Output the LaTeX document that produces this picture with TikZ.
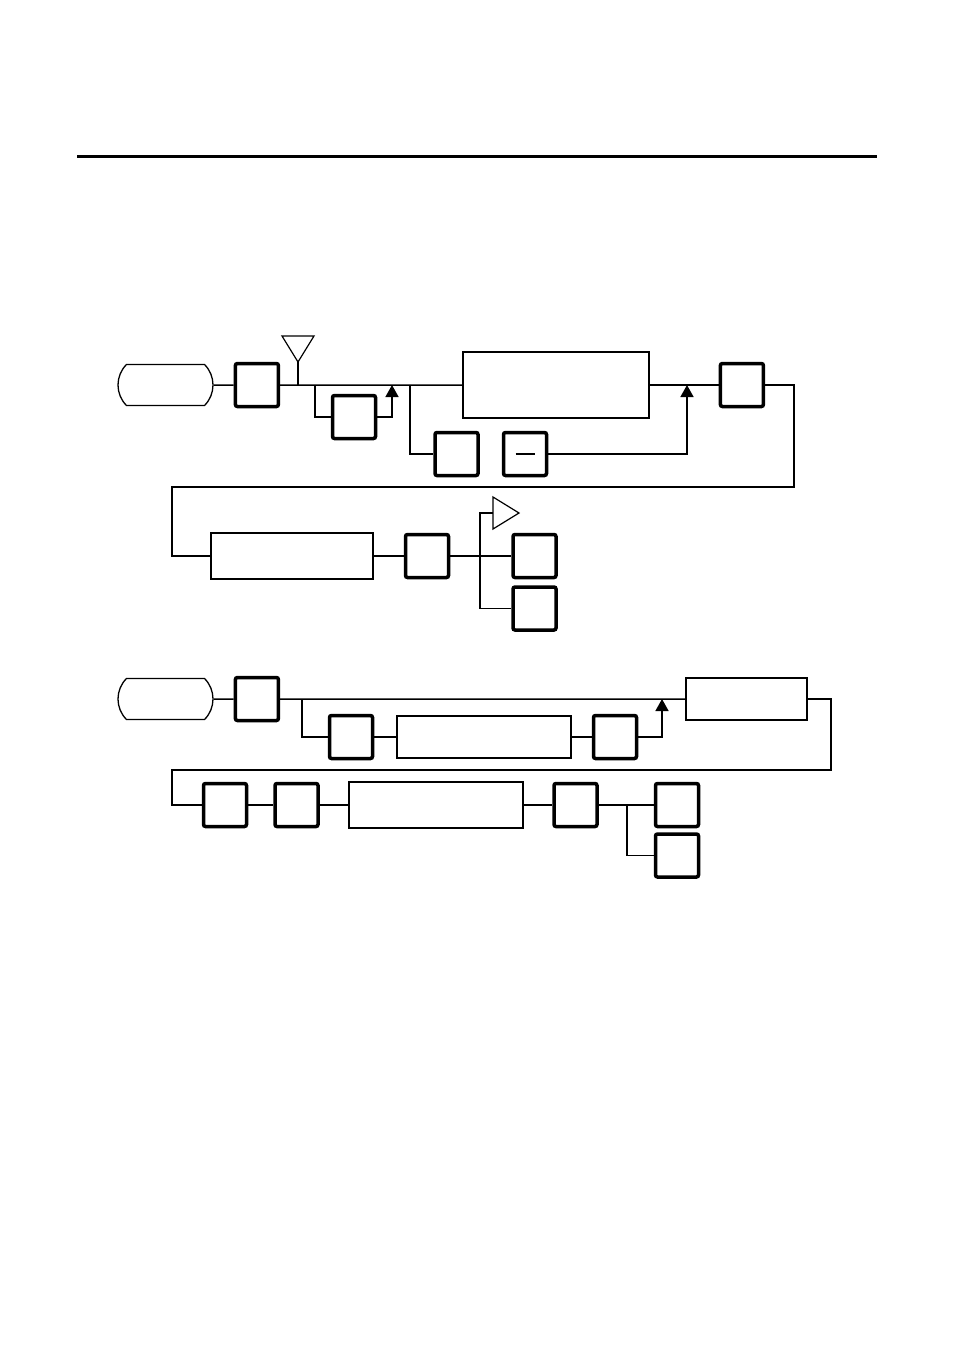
\documentclass[tikz,border=0pt]{standalone}
\usepackage{tikz}
\usetikzlibrary{positioning,calc,arrows.meta,shapes.misc}
\tikzstyle{line} = [draw,line width=1.5pt]
\tikzstyle{boldbox} = [draw,line width=3.5pt,rounded corners=2pt,minimum width=43pt,minimum height=43pt,inner sep=0pt]
\tikzstyle{thinbox} = [draw,line width=2pt,inner sep=0pt]
\tikzstyle{terminal} = [draw,line width=1.3pt,rounded rectangle,rounded rectangle arc length=90,minimum width=95pt,minimum height=41pt,inner sep=0pt]
\tikzstyle{flag} = [draw,line width=1.2pt,line join=miter]
\tikzstyle{joinarrow} = [line,-{Triangle[width=13pt,length=12pt]}]

\begin{document}
\begin{tikzpicture}[x=1pt,y=-1pt]
\useasboundingbox (0,0) rectangle (954,1351);
\draw[line width=3pt] (77,157) -- (877,157);

% first diagram, upper row
\node[terminal] (start1) at (165.5,385) {};
\node[boldbox] (k1) [right=20pt of start1] {};
\node[thinbox,minimum width=185.5pt,minimum height=66.5pt] (field1) [right=182pt of k1] {};
\node[boldbox] (k5) [right=69pt of field1] {};
\node[boldbox] (k2) at (354,417) {};
\node[boldbox] (k3) at (456.5,454) {};
\node[boldbox] (k4) [right=22pt of k3] {\rule{19pt}{2pt}};
\draw[line] (start1) -- (k1) -- (field1);
\draw[line] (field1) -- (k5);
\coordinate (m0) at (298,385);
\coordinate (tip1) at (298,362);
\draw[line] (m0) -- (tip1);
\draw[flag] (tip1) -- ++(-16,-26) -- ++(32,0) -- cycle;
\coordinate (s1) at (315,385);
\coordinate (e1) at (392,385);
\draw[line] (s1) |- (k2);
\draw[joinarrow] (k2) -| (e1);
\coordinate (s2) at (410,385);
\coordinate (e2) at (687,385);
\draw[line] (s2) |- (k3);
\draw[joinarrow] (k4) -| (e2);

% first diagram, lower row
\node[thinbox,minimum width=161.5pt,minimum height=46.5pt] (field2) at (292,556) {};
\node[boldbox] (k6) [right=30pt of field2] {};
\node[boldbox] (k7) [right=61pt of k6] {};
\node[boldbox] (k8) [below=6pt of k7] {};
\coordinate (r1) at (794,385);
\coordinate (r2) at (172,487);
\draw[line] (k5) -- (r1) |- (r2) |- (field2);
\draw[line] (field2) -- (k6) -- (k7);
\coordinate (s3) at (480,556);
\coordinate (tip2) at (493,513);
\draw[line] (s3) |- (tip2);
\draw[line] (s3) |- (k8);
\draw[flag] (tip2) -- ++(0,-16) -- ++(26,16) -- ++(-26,16) -- cycle;

% second diagram, upper row
\node[terminal] (start2) at (165.5,699) {};
\node[boldbox] (k9) [right=20pt of start2] {};
\node[thinbox,minimum width=120.5pt,minimum height=42.5pt] (field3) at (746.5,699) {};
\node[boldbox] (k10) at (351,737) {};
\node[thinbox,minimum width=173.5pt,minimum height=42.5pt] (field4) [right=22pt of k10] {};
\node[boldbox] (k11) [right=20pt of field4] {};
\draw[line] (start2) -- (k9) -- (field3);
\coordinate (s4) at (302,699);
\coordinate (e4) at (662,699);
\draw[line] (s4) |- (k10);
\draw[line] (k10) -- (field4) -- (k11);
\draw[joinarrow] (k11) -| (e4);

% second diagram, lower row
\node[boldbox] (k12) at (225,805) {};
\node[boldbox] (k13) [right=25pt of k12] {};
\node[thinbox,minimum width=174.5pt,minimum height=46.5pt] (field5) [right=28pt of k13] {};
\node[boldbox] (k14) [right=28pt of field5] {};
\node[boldbox] (k15) [right=55pt of k14] {};
\node[boldbox] (k16) [below=4pt of k15] {};
\coordinate (r3) at (831,699);
\coordinate (r4) at (172,770);
\draw[line] (field3) -- (r3) |- (r4) |- (k12);
\draw[line] (k12) -- (k13) -- (field5) -- (k14) -- (k15);
\coordinate (s5) at (627,805);
\draw[line] (s5) |- (k16);
\end{tikzpicture}
\end{document}
